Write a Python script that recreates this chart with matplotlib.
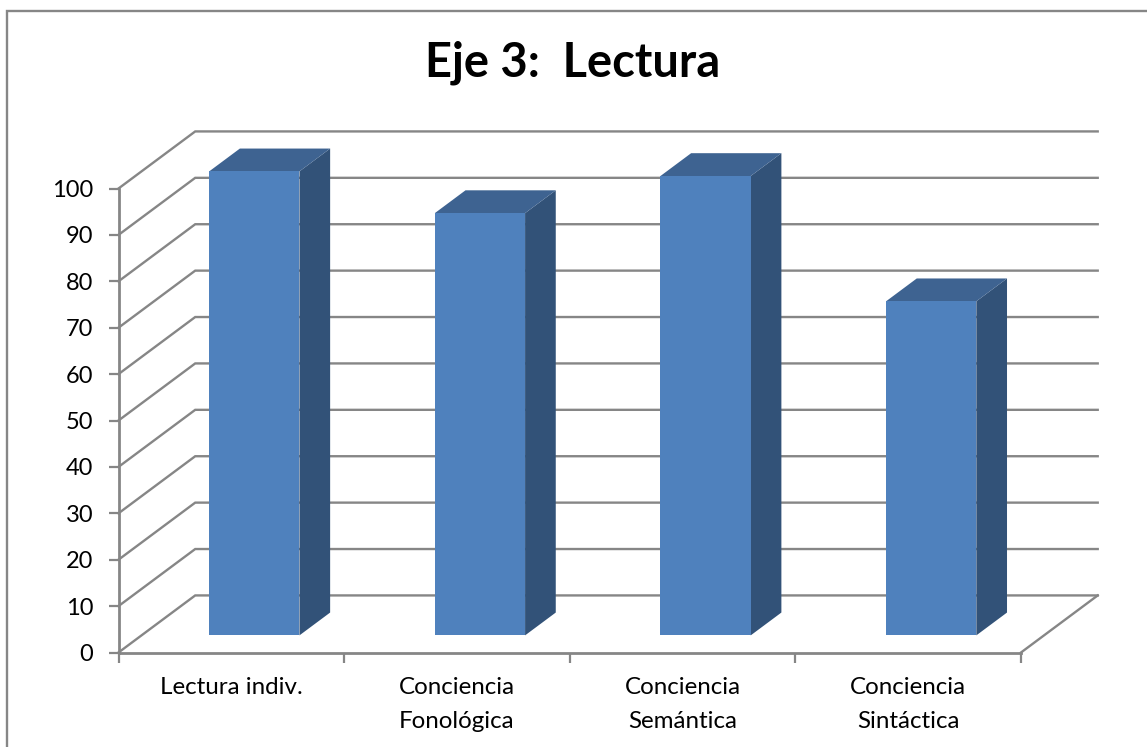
import matplotlib
matplotlib.use('Agg')
import matplotlib.pyplot as plt
from matplotlib.patches import Polygon

categories = ['Lectura indiv.', 'Conciencia\nFonológica', 'Conciencia\nSemántica', 'Conciencia\nSintáctica']
values = [100, 91, 99, 72]
y_ticks = list(range(0, 101, 10))

W, H = 1147, 747
GRAY = '#868686'
FRONT = '#4F81BD'
SIDE = '#325278'
TOP = '#3E6391'

# oblique depth of the floor, in data units
DEPTH_X = 0.34
DEPTH_Y = 12.3
BAR_WIDTH = 0.4
BAR_START = 0.30  # how far into the floor the bars sit
BAR_DEPTH = 0.40

plt.rcParams['font.family'] = ['Lato', 'DejaVu Sans']

fig = plt.figure(figsize=(W / 100, H / 100), dpi=100)

# pixel box of the front axes
left, right, top, bottom = 118.5, 1021, 188.5, 652.5
ax = fig.add_axes([left / W, 1 - bottom / H, (right - left) / W, (bottom - top) / H])
ax.set_xlim(0, len(categories))
ax.set_ylim(0, 100)
ax.patch.set_visible(False)
for name in ['top', 'right']:
    ax.spines[name].set_visible(False)
for name in ['left', 'bottom']:
    ax.spines[name].set_color(GRAY)
    ax.spines[name].set_linewidth(2)

ax.set_yticks(y_ticks)
ax.set_xticks(range(len(categories) + 1))
ax.set_xticklabels([])
ax.tick_params(axis='y', length=7, width=1.6, color=GRAY, labelsize=17, pad=11, labelcolor='black')
ax.tick_params(axis='x', length=7, width=1.6, color=GRAY)

# wall gridlines
for v in y_ticks:
    ax.plot([0, DEPTH_X, len(categories) + DEPTH_X], [v, v + DEPTH_Y, v + DEPTH_Y],
            color=GRAY, lw=1.7, clip_on=False, zorder=1, solid_joinstyle='miter')
# floor edge on the right
ax.plot([len(categories), len(categories) + DEPTH_X], [0, DEPTH_Y],
        color=GRAY, lw=1.7, clip_on=False, zorder=1)

# bars
for i, val in enumerate(values):
    x0 = i + 0.5 - BAR_WIDTH / 2 + DEPTH_X * BAR_START
    x1 = x0 + BAR_WIDTH
    y0 = DEPTH_Y * BAR_START
    y1 = y0 + val
    dx = DEPTH_X * BAR_DEPTH
    dy = DEPTH_Y * BAR_DEPTH
    ax.add_patch(Polygon([(x1, y0), (x1 + dx, y0 + dy), (x1 + dx, y1 + dy), (x1, y1)],
                         fc=SIDE, ec='none', clip_on=False, zorder=3))
    ax.add_patch(Polygon([(x0, y1), (x0 + dx, y1 + dy), (x1 + dx, y1 + dy), (x1, y1)],
                         fc=TOP, ec='none', clip_on=False, zorder=3))
    ax.add_patch(Polygon([(x0, y0), (x1, y0), (x1, y1), (x0, y1)],
                         fc=FRONT, ec='none', clip_on=False, zorder=4))

    ax.annotate(categories[i], xy=(i + 0.5, 0), xytext=(0, -18), textcoords='offset points',
                ha='center', va='top', fontsize=17.4, linespacing=1.73, annotation_clip=False)

# chart frame, only top and left are in view
fig.add_artist(plt.Line2D([7 / W, 7 / W, 1], [0, 1 - 11 / H, 1 - 11 / H],
                          color=GRAY, lw=1.7, solid_joinstyle='miter'))

fig.text(573 / W, 1 - 63 / H, 'Eje 3:  Lectura', ha='center', va='center',
         fontsize=33.8, fontweight='bold')

fig.savefig('out.png', dpi=100)
